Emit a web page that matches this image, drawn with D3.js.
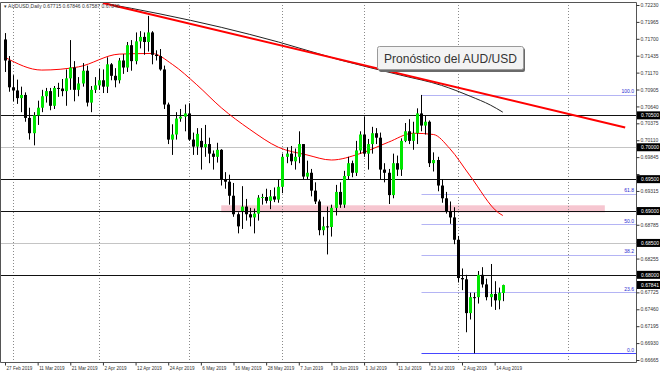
<!DOCTYPE html>
<html>
<head>
<meta charset="utf-8">
<script src="https://cdn.jsdelivr.net/npm/d3@7"></script>
<style>
  html, body { margin: 0; padding: 0; background: #fff; }
  svg { display: block; font-family: "Liberation Sans", Arial, sans-serif; }
</style>
</head>
<body>
<svg id="chart" width="660" height="373"></svg>
<script>
// AUDUSD daily bars, 27 Feb - 16 Aug 2019
const dates = [
  "27 Feb 2019","28 Feb 2019",
  "1 Mar 2019","4 Mar 2019","5 Mar 2019","6 Mar 2019","7 Mar 2019","8 Mar 2019","11 Mar 2019","12 Mar 2019","13 Mar 2019","14 Mar 2019","15 Mar 2019",
  "18 Mar 2019","19 Mar 2019","20 Mar 2019","21 Mar 2019","22 Mar 2019","25 Mar 2019","26 Mar 2019","27 Mar 2019","28 Mar 2019","29 Mar 2019",
  "1 Apr 2019","2 Apr 2019","3 Apr 2019","4 Apr 2019","5 Apr 2019","8 Apr 2019","9 Apr 2019","10 Apr 2019","11 Apr 2019","12 Apr 2019",
  "15 Apr 2019","16 Apr 2019","17 Apr 2019","18 Apr 2019","19 Apr 2019","22 Apr 2019","23 Apr 2019","24 Apr 2019","25 Apr 2019","26 Apr 2019","29 Apr 2019","30 Apr 2019",
  "1 May 2019","2 May 2019","3 May 2019","6 May 2019","7 May 2019","8 May 2019","9 May 2019","10 May 2019","13 May 2019","14 May 2019","15 May 2019","16 May 2019","17 May 2019",
  "20 May 2019","21 May 2019","22 May 2019","23 May 2019","24 May 2019","27 May 2019","28 May 2019","29 May 2019","30 May 2019","31 May 2019",
  "3 Jun 2019","4 Jun 2019","5 Jun 2019","6 Jun 2019","7 Jun 2019","10 Jun 2019","11 Jun 2019","12 Jun 2019","13 Jun 2019","14 Jun 2019",
  "17 Jun 2019","18 Jun 2019","19 Jun 2019","20 Jun 2019","21 Jun 2019","24 Jun 2019","25 Jun 2019","26 Jun 2019","27 Jun 2019","28 Jun 2019",
  "1 Jul 2019","2 Jul 2019","3 Jul 2019","4 Jul 2019","5 Jul 2019","8 Jul 2019","9 Jul 2019","10 Jul 2019","11 Jul 2019","12 Jul 2019",
  "15 Jul 2019","16 Jul 2019","17 Jul 2019","18 Jul 2019","19 Jul 2019","22 Jul 2019","23 Jul 2019","24 Jul 2019","25 Jul 2019","26 Jul 2019",
  "29 Jul 2019","30 Jul 2019","31 Jul 2019",
  "1 Aug 2019","2 Aug 2019","5 Aug 2019","6 Aug 2019","7 Aug 2019","8 Aug 2019","9 Aug 2019","12 Aug 2019","13 Aug 2019","14 Aug 2019","15 Aug 2019","16 Aug 2019"
];

// [open, high, low, close]
const ohlc = [
  [0.7169,0.7179,0.7118,0.7136],[0.7136,0.7143,0.7087,0.7094],
  // Mar
  [0.7094,0.7113,0.7072,0.7089],[0.7089,0.7106,0.7068,0.7077],[0.7077,0.7095,0.7055,0.7082],[0.7082,0.7086,0.7040,0.7046],
  [0.7046,0.7062,0.7012,0.7022],[0.7022,0.7055,0.7003,0.7050],[0.7050,0.7073,0.7035,0.7062],[0.7062,0.7090,0.7055,0.7080],
  [0.7080,0.7093,0.7070,0.7088],[0.7088,0.7093,0.7058,0.7065],[0.7065,0.7096,0.7060,0.7093],[0.7093,0.7101,0.7079,0.7092],
  [0.7092,0.7107,0.7080,0.7088],[0.7088,0.7122,0.7065,0.7108],[0.7108,0.7168,0.7090,0.7125],[0.7125,0.7135,0.7072,0.7090],
  [0.7090,0.7110,0.7080,0.7100],[0.7100,0.7132,0.7095,0.7120],[0.7120,0.7128,0.7064,0.7070],[0.7070,0.7096,0.7055,0.7090],
  [0.7090,0.7110,0.7085,0.7097],
  // Apr
  [0.7097,0.7123,0.7090,0.7105],[0.7105,0.7122,0.7085,0.7095],[0.7095,0.7141,0.7085,0.7130],[0.7130,0.7132,0.7105,0.7112],
  [0.7112,0.7124,0.7094,0.7105],[0.7105,0.7140,0.7100,0.7136],[0.7136,0.7146,0.7115,0.7125],[0.7125,0.7165,0.7118,0.7160],
  [0.7160,0.7168,0.7120,0.7135],[0.7135,0.7180,0.7130,0.7166],[0.7166,0.7182,0.7155,0.7173],[0.7173,0.7180,0.7145,0.7165],
  [0.7165,0.7206,0.7150,0.7180],[0.7180,0.7182,0.7130,0.7145],[0.7145,0.7152,0.7136,0.7143],[0.7143,0.7154,0.7120,0.7122],
  [0.7122,0.7128,0.7060,0.7067],[0.7067,0.7070,0.7005,0.7012],[0.7012,0.7036,0.6988,0.7020],[0.7020,0.7055,0.7012,0.7045],
  [0.7045,0.7060,0.7040,0.7048],[0.7048,0.7067,0.7025,0.7053],
  // May
  [0.7053,0.7069,0.7010,0.7012],[0.7012,0.7023,0.6988,0.7001],[0.7001,0.7030,0.6988,0.7021],[0.7010,0.7030,0.6965,0.7000],
  [0.7000,0.7035,0.6985,0.7005],[0.7005,0.7015,0.6975,0.6990],[0.6990,0.6995,0.6965,0.6985],[0.6985,0.7007,0.6976,0.6996],
  [0.6996,0.6997,0.6940,0.6950],[0.6950,0.6961,0.6935,0.6946],[0.6946,0.6957,0.6910,0.6924],[0.6924,0.6944,0.6891,0.6895],
  [0.6895,0.6898,0.6865,0.6876],[0.6900,0.6939,0.6872,0.6907],[0.6907,0.6919,0.6885,0.6895],[0.6895,0.6905,0.6876,0.6890],
  [0.6890,0.6904,0.6865,0.6896],[0.6896,0.6925,0.6885,0.6921],[0.6921,0.6927,0.6910,0.6922],[0.6922,0.6935,0.6912,0.6916],
  [0.6916,0.6933,0.6903,0.6923],[0.6923,0.6937,0.6914,0.6918],[0.6918,0.6950,0.6913,0.6938],
  // Jun
  [0.6938,0.6990,0.6928,0.6985],[0.6985,0.7000,0.6975,0.6990],[0.6990,0.7002,0.6972,0.6978],[0.6978,0.6998,0.6965,0.6985],
  [0.6985,0.7025,0.6975,0.7005],[0.7005,0.7005,0.6950,0.6954],[0.6954,0.6979,0.6950,0.6960],[0.6960,0.6966,0.6923,0.6932],
  [0.6932,0.6945,0.6911,0.6915],[0.6915,0.6918,0.6862,0.6870],[0.6870,0.6891,0.6862,0.6876],[0.6876,0.6907,0.6832,0.6875],
  [0.6875,0.6910,0.6860,0.6905],[0.6905,0.6941,0.6893,0.6930],[0.6930,0.6945,0.6905,0.6910],[0.6910,0.6963,0.6905,0.6955],
  [0.6955,0.6985,0.6950,0.6975],[0.6975,0.6979,0.6953,0.6960],[0.6960,0.7010,0.6955,0.6995],[0.6995,0.7025,0.6990,0.7020],
  // Jul
  [0.7020,0.7048,0.6985,0.6990],[0.6990,0.7013,0.6965,0.7005],[0.7005,0.7032,0.6990,0.7022],[0.7022,0.7030,0.7005,0.7015],
  [0.7015,0.7023,0.6950,0.6965],[0.6965,0.6975,0.6945,0.6960],[0.6960,0.6966,0.6911,0.6925],[0.6925,0.6990,0.6920,0.6975],
  [0.6975,0.6987,0.6955,0.6965],[0.6965,0.7014,0.6955,0.7010],[0.7010,0.7038,0.7008,0.7025],[0.7025,0.7044,0.7005,0.7010],
  [0.7010,0.7040,0.6996,0.7022],[0.7022,0.7061,0.7005,0.7053],[0.7053,0.7082,0.7025,0.7034],[0.7034,0.7049,0.7020,0.7040],
  [0.7040,0.7042,0.6969,0.6975],[0.6975,0.6992,0.6962,0.6980],[0.6980,0.6985,0.6931,0.6940],[0.6940,0.6950,0.6913,0.6920],
  [0.6920,0.6930,0.6896,0.6900],[0.6900,0.6915,0.6880,0.6890],[0.6890,0.6906,0.6848,0.6855],
  // Aug
  [0.6855,0.6861,0.6788,0.6795],[0.6795,0.6810,0.6776,0.6793],[0.6793,0.6800,0.6710,0.6740],[0.6740,0.6772,0.6730,0.6765],
  [0.6765,0.6772,0.6677,0.6765],[0.6765,0.6806,0.6755,0.6800],[0.6800,0.6812,0.6780,0.6785],[0.6785,0.6794,0.6760,0.6765],
  [0.6765,0.6817,0.6750,0.6770],[0.6770,0.6790,0.6745,0.6760],[0.6760,0.6780,0.6746,0.6772],[0.67715,0.67846,0.67587,0.67840]
];

const priceTicks = [0.72230,0.71965,0.71700,0.71435,0.71170,0.70905,0.70640,0.70375,0.70110,0.69845,0.69580,
                    0.69315,0.69050,0.68785,0.68520,0.68255,0.67990,0.67725,0.67460,0.67195,0.66930,0.66665];

// horizontal levels drawn by the analyst
const blackLevels = [0.70500, 0.69500, 0.69000, 0.68000];
const greyLevels = [0.70000, 0.68500];
const boxLabels = [0.70500, 0.70000, 0.69500, 0.69000, 0.68500, 0.68000, 0.67841];

// [bar index, price]
const trendLine = [[24, 0.7226], [152, 0.7031]];
const slowMA = [[24,0.7226],[38,0.7209],[53,0.7188],[67,0.7165],[82,0.7137],[97,0.7113],[107,0.7097],[114,0.7080],[119,0.7066],[122,0.7055]];
const fastMA = [[0,0.7141],[9,0.7121],[18,0.7126],[28,0.7146],[36,0.7147],[41,0.7130],[47,0.7098],[53,0.7062],[60,0.7028],
                [67,0.7000],[74,0.6988],[80,0.6980],[87,0.6990],[94,0.7008],[100,0.7022],[105,0.7020],[109,0.6998],[114,0.6955],[121,0.6897],[122,0.6893]];

const fibHigh = [102, 0.7082];
const fibLow = [115, 0.6677];
const fibLevels = [0, 23.6, 38.2, 50, 61.8, 100];

const zoneBars = [53, 147];
const zonePrices = [0.6898, 0.6909];
const separators = [2, 23, 45, 68, 88, 111, 138];

const svg = d3.select("#chart");
const plotR = 636, plotB = 362;

const x = d3.scaleLinear().domain([0, dates.length - 1]).range([5, 502.8]);
const y = d3.scaleLinear().domain([0.66665, 0.72230]).range([360, 5]);
const px = v => Math.round(x(v)) + 0.5;
const py = v => Math.round(y(v)) + 0.5;

svg.append("rect").attr("width", 660).attr("height", 373).attr("fill", "#fff");
svg.append("defs").append("clipPath").attr("id", "clip")
  .append("rect").attr("x", 1).attr("y", 2).attr("width", plotR - 1).attr("height", plotB - 2);

const g = svg.append("g").attr("clip-path", "url(#clip)");

// zone
g.append("rect")
  .attr("x", x(zoneBars[0])).attr("width", x(zoneBars[1]) - x(zoneBars[0]))
  .attr("y", y(zonePrices[1])).attr("height", y(zonePrices[0]) - y(zonePrices[1]))
  .attr("fill", "#f6c6d0");

// period separators
g.selectAll(".sep").data(separators).enter().append("line")
  .attr("x1", d => px(d)).attr("x2", d => px(d)).attr("y1", 2).attr("y2", plotB)
  .attr("stroke", "#8a8a8a").attr("stroke-dasharray", "1,2");

g.selectAll(".glev").data(greyLevels).enter().append("line")
  .attr("x1", 0).attr("x2", plotR).attr("y1", d => py(d)).attr("y2", d => py(d))
  .attr("stroke", "#c4c4c4");
g.selectAll(".blev").data(blackLevels).enter().append("line")
  .attr("x1", 0).attr("x2", plotR).attr("y1", d => py(d)).attr("y2", d => py(d))
  .attr("stroke", "#111");

// fibonacci
const fibPrice = l => fibLow[1] + (fibHigh[1] - fibLow[1]) * l / 100;
g.selectAll(".fib").data(fibLevels).enter().append("line")
  .attr("x1", px(fibHigh[0])).attr("x2", plotR)
  .attr("y1", d => py(fibPrice(d))).attr("y2", d => py(fibPrice(d)))
  .attr("stroke", d => d === 0 ? "#4646ff" : "#b4b4f4");
svg.selectAll(".fibt").data(fibLevels).enter().append("text")
  .attr("x", plotR - 2).attr("y", d => y(fibPrice(d)) - 1.5)
  .attr("text-anchor", "end").attr("font-size", 5).attr("fill", "#2a2ad0")
  .text(d => d.toFixed(1));

// moving averages
const line = d3.line().x(d => x(d[0])).y(d => y(d[1])).curve(d3.curveMonotoneX);
g.append("path").datum(slowMA).attr("d", line).attr("fill", "none").attr("stroke", "#222").attr("stroke-width", 1);
g.append("path").datum(fastMA).attr("d", line).attr("fill", "none").attr("stroke", "#f00").attr("stroke-width", 1);

// candles
const candle = g.selectAll(".c").data(ohlc).enter().append("g");
candle.append("line")
  .attr("x1", (d, i) => px(i)).attr("x2", (d, i) => px(i))
  .attr("y1", d => y(d[1])).attr("y2", d => y(d[2]))
  .attr("stroke", "#000");
candle.append("rect")
  .attr("x", (d, i) => Math.round(x(i)) - 1).attr("width", 3)
  .attr("y", d => y(Math.max(d[0], d[3])))
  .attr("height", d => Math.max(1, Math.abs(y(d[0]) - y(d[3]))))
  .attr("fill", d => d[3] > d[0] ? "#00e600" : "#000");

// trend line
g.append("line")
  .attr("x1", x(trendLine[0][0])).attr("y1", y(trendLine[0][1]))
  .attr("x2", x(trendLine[1][0])).attr("y2", y(trendLine[1][1]))
  .attr("stroke", "#ff0000").attr("stroke-width", 2);

// frame
svg.append("path").attr("d", `M0.5,2.5H${plotR + 0.5}V${plotB + 0.5}H0.5Z`)
  .attr("fill", "none").attr("stroke", "#555");

// price axis (labels hidden where a level box sits on top)
const yAxis = svg.append("g").attr("transform", `translate(${plotR + 0.5},0)`)
  .call(d3.axisRight(y).tickValues(priceTicks).tickSize(3).tickSizeOuter(0).tickFormat(d3.format(".5f")));
yAxis.select(".domain").remove();
yAxis.selectAll("line").attr("stroke", "#333");
yAxis.selectAll("text").attr("font-size", 5).attr("fill", "#333").attr("x", 4).attr("font-family", "Liberation Sans, Arial, sans-serif")
  .style("display", d => boxLabels.some(b => Math.abs(y(b) - y(d)) < 6.5) ? "none" : null);

const boxes = svg.selectAll(".box").data(boxLabels).enter().append("g")
  .attr("transform", d => `translate(${plotR + 1},${y(d)})`);
boxes.append("rect").attr("x", 0).attr("y", -4).attr("width", 23).attr("height", 8).attr("fill", "#000");
boxes.append("text").attr("x", 4).attr("y", 1.8).attr("font-size", 5).attr("fill", "#fff")
  .text(d => d.toFixed(5));

// time axis
const dateIdx = d3.range(0, dates.length, 8);
const xAxis = svg.append("g").attr("transform", `translate(0,${plotB + 0.5})`)
  .call(d3.axisBottom(x).tickValues(dateIdx).tickSize(3).tickSizeOuter(0).tickFormat(i => dates[i]));
xAxis.select(".domain").remove();
xAxis.selectAll("line").attr("stroke", "#333");
xAxis.selectAll("text").attr("font-size", 4.6).attr("fill", "#333").attr("text-anchor", "start")
  .attr("x", 1).attr("y", 4).attr("font-family", "Liberation Sans, Arial, sans-serif");

// symbol header
const last = ohlc[ohlc.length - 1];
svg.append("text").attr("x", 4).attr("y", 8).attr("font-size", 5).attr("fill", "#333")
  .text("\u25BE AUDUSD,Daily  " + last.map(v => v.toFixed(5)).join(" "));

// annotation box
const note = svg.append("g").attr("transform", "translate(377,46)");
note.append("rect").attr("x", 2).attr("y", 2).attr("width", 146).attr("height", 24).attr("rx", 2).attr("fill", "#6a6a6a");
note.append("rect").attr("x", 0.5).attr("y", 0.5).attr("width", 146).attr("height", 23).attr("rx", 2)
  .attr("fill", "#f3f3f3").attr("stroke", "#9a9a9a");
const noteText = note.append("text").attr("x", 7).attr("y", 16.5).attr("font-size", 12.5).attr("fill", "#333")
  .attr("font-family", "Liberation Sans, Arial, sans-serif").text("Pronóstico del AUD/USD");
const tw = noteText.node().getComputedTextLength();
if (tw > 0) noteText.attr("font-size", 12.5 * 133 / tw);
</script>
</body>
</html>
